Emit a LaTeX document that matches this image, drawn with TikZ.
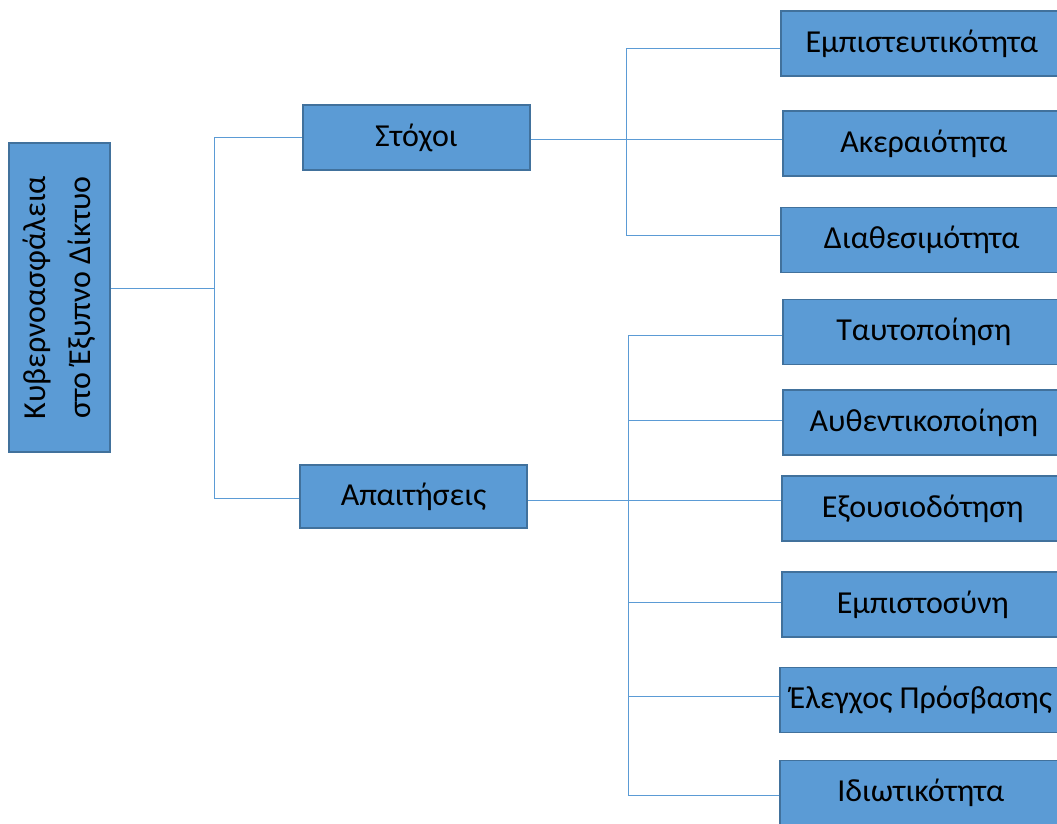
\documentclass[tikz,border=0pt]{standalone}
\usepackage{fontspec}
\setmainfont{Carlito}
\definecolor{boxfill}{HTML}{5B9BD5}
\definecolor{boxline}{HTML}{41719C}
\definecolor{conn}{HTML}{5B9BD5}
\begin{document}
\begin{tikzpicture}[x=1pt,y=-1pt,
  box/.style={draw=boxline, line width=1.6pt, fill=boxfill, text=black, inner sep=0pt,
    font=\fontsize{32}{45}\selectfont, align=center},
  leaf/.style={box, anchor=west, minimum width=282pt, minimum height=65pt},
  link/.style={draw=conn, line width=1pt}]
\useasboundingbox (0,0) rectangle (1057,823);
\clip (0,0) rectangle (1057,823);

% root
\node[box, rotate=90, minimum width=309pt, minimum height=101pt] (root) at (59.5,297.5)
  {Κυβερνοασφάλεια\\στο Έξυπνο Δίκτυο};

% level 1
\node[box, minimum width=227pt, minimum height=65pt] (goals) at (416.5,137.5) {Στόχοι};
\node[box, minimum width=227pt, minimum height=63pt] (reqs) at (413.5,496.5) {Απαιτήσεις};

% level 2 (goals)
\node[leaf] (g1) at (780,43.5) {Εμπιστευτικότητα};
\node[leaf] (g2) at (782,143.5) {Ακεραιότητα};
\node[leaf] (g3) at (780,240) {Διαθεσιμότητα};

% level 2 (requirements)
\node[leaf] (r1) at (782,332) {Ταυτοποίηση};
\node[leaf] (r2) at (782,422.5) {Αυθεντικοποίηση};
\node[leaf] (r3) at (781,508.5) {Εξουσιοδότηση};
\node[leaf] (r4) at (781,604.5) {Εμπιστοσύνη};
\node[leaf] (r5) at (779,700) {Έλεγχος Πρόσβασης};
\node[leaf] (r6) at (779,793) {Ιδιωτικότητα};

% junctions
\coordinate (j1) at (214,288);
\coordinate (j2) at (626,139);
\coordinate (j3) at (628,500.5);

% root connectors
\draw[link] (root.south |- j1) -- (j1);
\draw[link] (j1) |- (goals.west |- 0,137);
\draw[link] (j1) |- (reqs.west |- 0,498);

% goals connectors
\draw[link] (goals.east |- j2) -- (g2.west |- j2);
\draw[link] (j2) |- (g1.west |- 0,48);
\draw[link] (j2) |- (g3.west |- 0,235);

% requirements connectors
\draw[link] (reqs.east |- j3) -- (r3.west |- j3);
\draw[link] (j3) |- (r1.west |- 0,335);
\draw[link] (j3 |- 0,420) -- (r2.west |- 0,420);
\draw[link] (j3) |- (r6.west |- 0,795);
\draw[link] (j3 |- 0,602) -- (r4.west |- 0,602);
\draw[link] (j3 |- 0,696) -- (r5.west |- 0,696);
\end{tikzpicture}
\end{document}
